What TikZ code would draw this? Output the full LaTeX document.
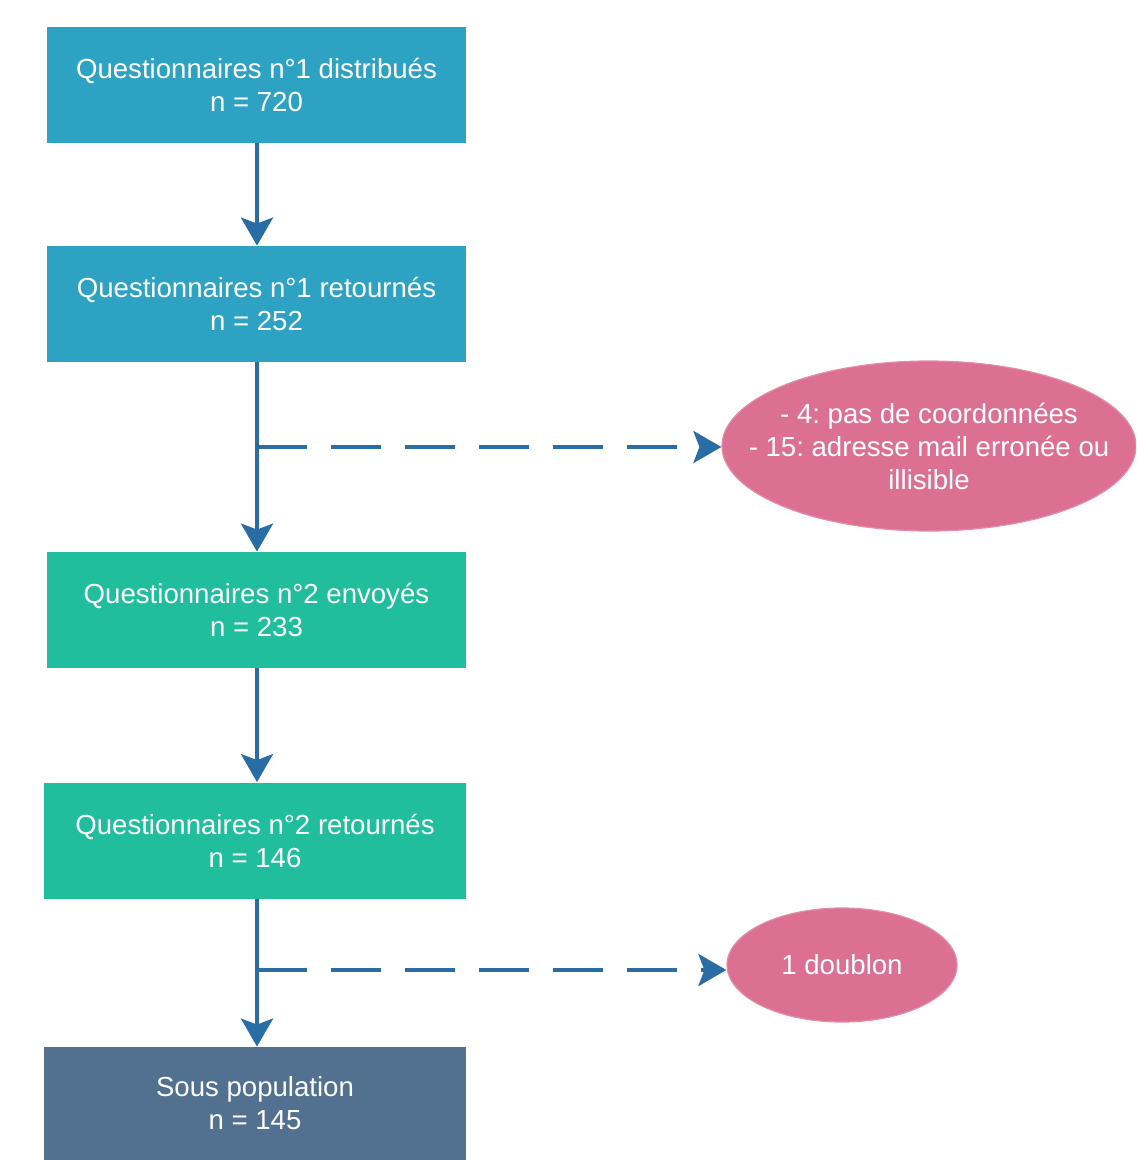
\documentclass[tikz,border=0pt]{standalone}
\usepackage{fontspec}
\setmainfont{Liberation Sans}
\frenchspacing
\usetikzlibrary{shapes.geometric,arrows.meta,calc}
\definecolor{bluebox}{HTML}{2DA2C2}
\definecolor{greenbox}{HTML}{20BE9C}
\definecolor{slatebox}{HTML}{52708F}
\definecolor{pinkell}{HTML}{DB7093}
\definecolor{arrowc}{HTML}{2A6DA5}
\tikzset{
  lbl/.style={text=white, font=\fontsize{13.8pt}{16.5pt}\selectfont, align=center},
  box/.style={rectangle, inner sep=0pt, minimum width=209.5pt, minimum height=58pt, lbl},
  ell/.style={ellipse, inner sep=0pt, fill=pinkell, draw=pinkell!80!white, line width=0.6pt},
  tip/.style={-{Stealth[width=16pt,length=14pt,inset=3pt]}},
  arr/.style={draw=arrowc, line width=2pt, tip},
  dasharr/.style={draw=arrowc, line width=2pt, dash pattern=on 25pt off 12pt, tip},
}
\begin{document}
\begin{tikzpicture}[x=0.5pt,y=-0.5pt]
\useasboundingbox (0,0) rectangle (1136,1160);
\clip (0,0) rectangle (1136,1160);
\node[box, fill=bluebox] (b1) at (256.5,85) {Questionnaires n°1 distribués\\n = 720};
\node[box, fill=bluebox] (b2) at (256.5,304) {Questionnaires n°1 retournés\\n = 252};
\node[box, fill=greenbox] (b3) at (256.5,610) {Questionnaires n°2 envoyés\\n = 233};
\node[box, fill=greenbox, minimum width=211pt] (b4) at (255,840.5) {Questionnaires n°2 retournés\\n = 146};
\node[box, fill=slatebox, minimum width=211pt, minimum height=62pt] (b5) at (255,1109) {};
\node[lbl] (t5) at (255,1103) {Sous population\\n = 145};
\node[ell, minimum width=207pt, minimum height=85pt] (e1) at (929,446) {};
\node[lbl] (t1) at (e1.center) {- 4: pas de coordonnées\\- 15: adresse mail erronée ou\\illisible};
\node[ell, minimum width=115pt, minimum height=57pt] (e2) at (842,965) {};
\node[lbl] (t2) at (e2.center) {1 doublon};
\draw[arr] (b1.south -| 257,0) -- (b2.north -| 257,0);
\draw[arr] (b2.south -| 257,0) -- (b3.north -| 257,0);
\draw[arr] (b3.south -| 257,0) -- (b4.north -| 257,0);
\draw[arr] (b4.south -| 257,0) -- (b5.north -| 257,0);
\coordinate (j1) at (257,447);
\coordinate (j2) at (257,970);
\draw[dasharr] (j1) -- (j1 -| e1.west);
\draw[dasharr] (j2) -- (j2 -| e2.west);
\end{tikzpicture}
\end{document}
